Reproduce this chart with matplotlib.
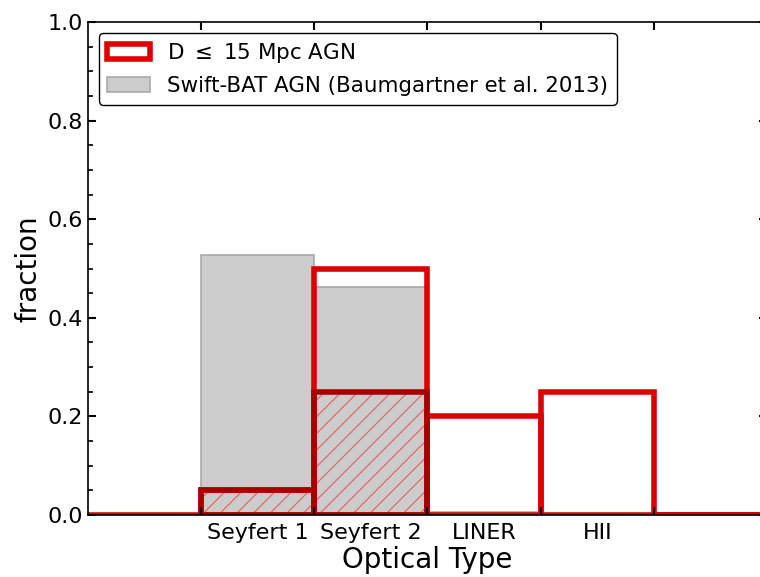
import numpy as np
import matplotlib
matplotlib.use('Agg')
import matplotlib.pyplot as plt

# optical classes, with empty bins padding each side
types = ['', 'Seyfert 1', 'Seyfert 2', 'LINER', 'HII', '']
edges = np.arange(len(types) + 1)

local_frac = [0.0, 0.05, 0.50, 0.20, 0.25, 0.0]      # D <= 15 Mpc sample
local_sub = [0.0, 0.05, 0.25, 0.0, 0.0, 0.0]         # hatched subset
bat_frac = [0.0, 0.527, 0.463, 0.006, 0.0, 0.0]      # Swift-BAT 70 month

red = '#dd0000'
darkred = '#a80000'

plt.rcParams['hatch.linewidth'] = 0.8

fig = plt.figure(figsize=(7.6, 5.77), dpi=100)
ax = fig.add_axes([88 / 760, 62 / 577, 679 / 760, 493 / 577])

x = edges[:-1]
ax.bar(x, bat_frac, width=1, align='edge', facecolor='#cccccc',
       edgecolor='#aaaaaa', lw=1.2, zorder=1,
       label='Swift-BAT AGN (Baumgartner et al. 2013)')
ax.bar(x, local_frac, width=1, align='edge', facecolor='none',
       edgecolor=red, lw=4, zorder=1.2, label=r'D $\leq$ 15 Mpc AGN')
ax.bar(x, local_sub, width=1, align='edge', facecolor='none',
       edgecolor='#e06060', lw=0, hatch='//', zorder=1.3)
sub = [v if v > 0 else np.nan for v in local_sub]
ax.bar(x, sub, width=1, align='edge', facecolor='none',
       edgecolor=darkred, lw=4, zorder=1.4)

ax.set_xlim(edges[0], edges[-1])
ax.set_ylim(0, 1.0)
ax.set_axisbelow(False)

named = [i for i, t in enumerate(types) if t]
ax.set_xticks([i + 0.5 for i in named])
ax.set_xticklabels([types[i] for i in named])
ax.set_xticks(edges[1:-1], minor=True)
ax.tick_params(axis='x', which='major', length=0, labelsize=16, pad=6)
ax.tick_params(axis='x', which='minor', direction='in', length=6,
               width=1.5, top=True, bottom=True)

ax.set_yticks(np.arange(0, 1.01, 0.2))
ax.set_yticks(np.arange(0, 1.001, 0.05), minor=True)
ax.yaxis.set_major_formatter(plt.FormatStrFormatter('%.1f'))
ax.tick_params(axis='y', which='major', direction='in', length=6,
               width=1.5, labelsize=16, left=True, right=True)
ax.tick_params(axis='y', which='minor', direction='in', length=3.5,
               width=1.2, left=True, right=True)

for s in ax.spines.values():
    s.set_linewidth(1.2)

ax.set_xlabel('Optical Type', fontsize=20, labelpad=2)
ax.set_ylabel('fraction', fontsize=20, labelpad=4)

handles, labels = ax.get_legend_handles_labels()
leg = ax.legend(handles[::-1], labels[::-1], loc='upper left', fontsize=15.4,
                framealpha=1, edgecolor='black', fancybox=True)
leg.get_frame().set_linewidth(1.0)

plt.savefig('out.png', dpi=100)
